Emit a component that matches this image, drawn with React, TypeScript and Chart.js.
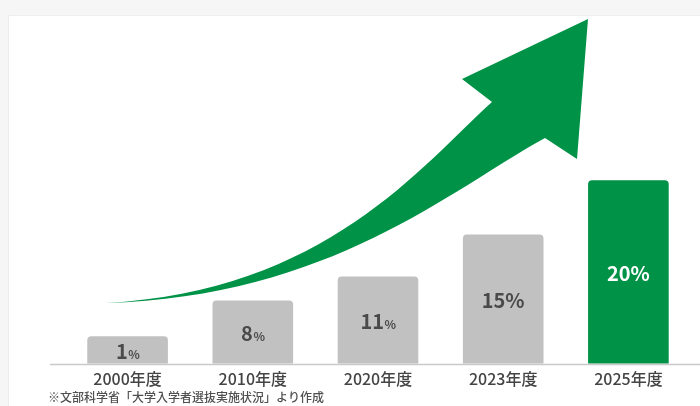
import React, { useEffect, useRef } from "react";
import { Chart, registerables } from "chart.js";

Chart.register(...registerables);

// ---- data ----
const categories = ["2000年度", "2010年度", "2020年度", "2023年度", "2025年度"];
const percentLabels = [1, 8, 11, 15, 20];
// bar heights as drawn in the picture (same units as the percentages; the small bars are drawn taller)
const barHeights = [3.0, 6.9, 9.5, 14.1, 20.0];
const yMax = 38;
const footnote = "※文部科学省「大学入学者選抜実施状況」より作成";

// ---- styles ----
const GREEN = "#009347";
const GRAY = "#c1c1c1";
const barColors = [GRAY, GRAY, GRAY, GRAY, GREEN];
const labelColors = ["#4a4a4a", "#4a4a4a", "#4a4a4a", "#4a4a4a", "#ffffff"];
const smallPercent = [true, true, true, false, false];
const FONT = "'Noto Sans CJK JP', 'Noto Sans', sans-serif";

// decorative arrow outline, in a 700x406 design space (cubic curves)
const arrowTail: [number, number] = [105, 303];
const upperCurve: [number, number][] = [[325, 292], [422, 165], [492, 102]];
const arrowHead: [number, number][] = [[462, 79], [588, 19], [577, 159], [545, 138]];
const lowerCurve: [number, number][] = [[450, 190], [330, 297], [105, 303]];

const arrowPlugin = {
  id: "arrowDecor",
  beforeDatasetsDraw(chart: any) {
    const ctx = chart.ctx as CanvasRenderingContext2D;
    const sx = chart.width / 700;
    const sy = chart.height / 406;
    const m = (p: [number, number]): [number, number] => [p[0] * sx, p[1] * sy];
    ctx.save();
    ctx.fillStyle = GREEN;
    ctx.beginPath();
    const t = m(arrowTail);
    ctx.moveTo(t[0], t[1]);
    const u = upperCurve.map(m);
    ctx.bezierCurveTo(u[0][0], u[0][1], u[1][0], u[1][1], u[2][0], u[2][1]);
    arrowHead.map(m).forEach((p) => ctx.lineTo(p[0], p[1]));
    const l = lowerCurve.map(m);
    ctx.bezierCurveTo(l[0][0], l[0][1], l[1][0], l[1][1], l[2][0], l[2][1]);
    ctx.closePath();
    ctx.fill();
    ctx.restore();
  },
};

const labelPlugin = {
  id: "barLabels",
  afterDatasetsDraw(chart: any) {
    const ctx = chart.ctx as CanvasRenderingContext2D;
    const meta = chart.getDatasetMeta(0);
    const area = chart.chartArea;
    ctx.save();
    // baseline
    ctx.strokeStyle = "#c9c9c9";
    ctx.lineWidth = 1.5;
    ctx.beginPath();
    ctx.moveTo(50, area.bottom + 0.75);
    ctx.lineTo(chart.width, area.bottom + 0.75);
    ctx.stroke();

    meta.data.forEach((el: any, i: number) => {
      const cy = (el.y + el.base) / 2;
      const num = String(percentLabels[i]);
      const bigFont = `bold 20px ${FONT}`;
      const pctFont = smallPercent[i] ? `bold 12px ${FONT}` : bigFont;
      ctx.font = bigFont;
      const wn = ctx.measureText(num).width;
      ctx.font = pctFont;
      const wp = ctx.measureText("%").width;
      const x0 = el.x - (wn + wp) / 2;
      const by = cy + 9;
      ctx.fillStyle = labelColors[i];
      ctx.textAlign = "left";
      ctx.textBaseline = "alphabetic";
      ctx.font = bigFont;
      ctx.fillText(num, x0, by);
      ctx.font = pctFont;
      ctx.fillText("%", x0 + wn + (smallPercent[i] ? 0.5 : 0), by);
    });

    // footnote
    ctx.font = `500 12px ${FONT}`;
    ctx.fillStyle = "#4f4f4f";
    ctx.textAlign = "left";
    ctx.textBaseline = "middle";
    ctx.fillText(footnote, 48, 397);
    ctx.restore();
  },
};

export default function App() {
  const ref = useRef<HTMLCanvasElement | null>(null);

  useEffect(() => {
    if (!ref.current) return;
    const chart = new Chart(ref.current, {
      type: "bar",
      data: {
        labels: categories,
        datasets: [
          {
            data: barHeights,
            backgroundColor: barColors,
            borderRadius: { topLeft: 4, topRight: 4, bottomLeft: 0, bottomRight: 0 },
            borderSkipped: "bottom",
            categoryPercentage: 1,
            barPercentage: 0.644,
          },
        ],
      },
      options: {
        animation: false,
        responsive: false,
        devicePixelRatio: window.devicePixelRatio || 1,
        layout: { padding: { left: 65, right: 9, top: 15, bottom: 11 } },
        plugins: {
          legend: { display: false },
          tooltip: { enabled: false },
          title: { display: false },
        },
        scales: {
          x: {
            grid: { display: false, drawTicks: false, tickLength: 0 },
            border: { display: false },
            ticks: {
              color: "#444444",
              padding: 6,
              font: { family: FONT, size: 16, weight: "500" as any },
            },
          },
          y: { display: false, min: 0, max: yMax },
        },
      },
      plugins: [arrowPlugin, labelPlugin],
    });
    return () => chart.destroy();
  }, []);

  return (
    <div
      style={{
        position: "fixed",
        left: 0,
        top: 0,
        width: 700,
        height: 406,
        background: "#f6f6f6",
        overflow: "hidden",
      }}
    >
      <div
        style={{
          position: "absolute",
          left: 8,
          top: 15,
          right: 0,
          bottom: 0,
          background: "#ffffff",
          borderLeft: "1px solid #ececec",
          borderTop: "1px solid #efefef",
        }}
      />
      <canvas
        ref={ref}
        width={700}
        height={406}
        style={{ position: "absolute", left: 0, top: 0, width: 700, height: 406 }}
      />
    </div>
  );
}
